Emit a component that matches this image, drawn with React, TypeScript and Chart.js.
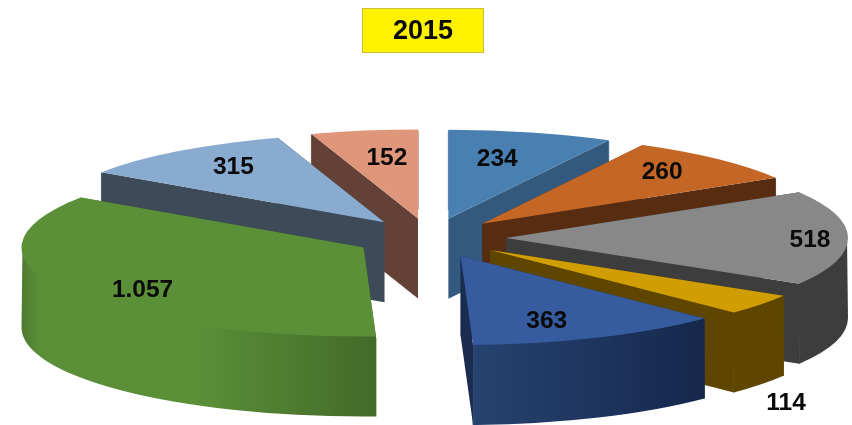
import React, { useEffect, useRef } from "react";
import { Chart, registerables } from "chart.js";

Chart.register(...registerables);

const year = "2015";
const categories = ["A", "B", "C", "D", "E", "F", "G", "H"];
const values = [234, 260, 518, 114, 363, 1057, 315, 152];

const topColors = ["#4A7FB1", "#C46726", "#888888", "#D09E00", "#365C9F", "#5B9039", "#8AABD0", "#E0967A"];
const cutColors = ["#34597F", "#582C10", "#3D3D3D", "#5E4500", "#1A2D50", "#436A29", "#3D4A58", "#634137"];
const rimStops: string[][] = [
  ["#34597F"],
  ["#582C10"],
  ["#3D3D3D"],
  ["#5E4500"],
  ["#26426F", "#1E3660", "#15274A"],
  ["#4E7A30", "#5A8F38", "#5A8F38", "#436A29"],
  ["#3D4A58"],
  ["#634137"],
];
// painter's order, back to front
const drawOrder = [0, 7, 1, 6, 2, 3, 5, 4];
const labelRadius = [0.7, 0.786, 0.889, 1.914, 0.763, 0.798, 0.77, 0.69];
const labelAngleShift = [-2.2, -1.5, 1, 25.4, 4.5, -7, 2, 1.5];

const pieView = { cx: 430, cy: 238, rx: 342, ry: 89, depth: 80, explode: 76 / 342 };

const fmt = (v: number) => String(v).replace(/\B(?=(\d{3})+$)/g, ".");

const pie3d = {
  id: "pie3d",
  beforeDraw(chart: any) {
    const c = chart.ctx;
    c.save();
    c.fillStyle = "#FFFFFF";
    c.fillRect(0, 0, chart.width, chart.height);
    c.fillStyle = "#FFF200";
    c.fillRect(362.5, 8.5, 121, 44);
    c.strokeStyle = "#CDBE3A";
    c.lineWidth = 1;
    c.strokeRect(362.5, 8.5, 121, 44);
    c.restore();
  },
  beforeDatasetsDraw(chart: any) {
    const c = chart.ctx;
    const arcs = chart.getDatasetMeta(0).data;
    const { cx, cy, rx, ry, depth, explode } = pieView;
    const apex = (el: any) => {
      const mid = (el.startAngle + el.endAngle) / 2;
      return { x: cx + explode * rx * Math.cos(mid), y: cy + explode * ry * Math.sin(mid) };
    };
    drawOrder.forEach((i) => {
      const el = arcs[i];
      const p = apex(el);
      const pt = (t: number) => ({ x: p.x + rx * Math.cos(t), y: p.y + ry * Math.sin(t) });
      // cut faces; the vertical edge is stroked so that no seam shows against the rim
      c.fillStyle = cutColors[i];
      c.strokeStyle = cutColors[i];
      c.lineWidth = 0.8;
      [el.startAngle, el.endAngle].forEach((t: number) => {
        const q = pt(t);
        c.beginPath();
        c.moveTo(p.x, p.y);
        c.lineTo(q.x, q.y);
        c.lineTo(q.x, q.y + depth);
        c.lineTo(p.x, p.y + depth);
        c.closePath();
        c.fill();
        c.beginPath();
        c.moveTo(q.x, q.y + 1);
        c.lineTo(q.x, q.y + depth);
        c.stroke();
      });
      // outer rim, front half only; its top edge tucks under the top face
      const a = Math.max(el.startAngle, 0);
      const b = Math.min(el.endAngle, Math.PI);
      if (b > a) {
        const xs = [a, b, Math.PI / 2].filter((t) => t >= a && t <= b).map((t) => pt(t).x);
        const stops = rimStops[i];
        const g = c.createLinearGradient(Math.min(...xs), 0, Math.max(...xs), 0);
        if (stops.length === 1) {
          g.addColorStop(0, stops[0]);
          g.addColorStop(1, stops[0]);
        } else {
          // left to right; the green one has a narrow shaded band at its far left
          stops.forEach((s, k) => {
            let pos = k / (stops.length - 1);
            if (stops.length === 4) pos = [0, 0.05, 0.5, 1][k];
            g.addColorStop(pos, s);
          });
        }
        c.fillStyle = g;
        c.beginPath();
        c.ellipse(p.x, p.y, rx - 1, ry - 1, 0, a, b, false);
        c.ellipse(p.x, p.y + depth, rx, ry, 0, b, a, true);
        c.closePath();
        c.fill();
      }
      // top face: the library's own arc element, squashed
      c.save();
      c.translate(p.x, p.y);
      c.scale(rx / el.outerRadius, ry / el.outerRadius);
      c.translate(-el.x, -el.y);
      el.draw(c);
      c.restore();
    });
    // value labels
    c.save();
    c.fillStyle = "#0A0A0A";
    c.font = 'bold 24.5px "Liberation Sans", Arial, sans-serif';
    c.textAlign = "center";
    c.textBaseline = "middle";
    arcs.forEach((el: any, i: number) => {
      const p = apex(el);
      const t = (el.startAngle + el.endAngle) / 2 + (labelAngleShift[i] * Math.PI) / 180;
      c.fillText(
        fmt(values[i]),
        p.x + labelRadius[i] * rx * Math.cos(t),
        p.y + labelRadius[i] * ry * Math.sin(t) + 1
      );
    });
    c.restore();
    return false;
  },
};

export default function App() {
  const ref = useRef<HTMLCanvasElement>(null);
  useEffect(() => {
    const chart = new Chart(ref.current as HTMLCanvasElement, {
      type: "pie",
      data: {
        labels: categories,
        datasets: [{ data: values, backgroundColor: topColors, borderWidth: 0 }],
      },
      plugins: [pie3d],
      options: {
        responsive: false,
        animation: false,
        events: [],
        layout: { padding: { right: 6 } },
        plugins: {
          legend: { display: false },
          tooltip: { enabled: false },
          title: {
            display: true,
            text: year,
            fullSize: false,
            color: "#0A0A0A",
            font: { family: '"Liberation Sans", Arial, sans-serif', size: 27, weight: "bold" },
            padding: { top: 15, bottom: 10 },
          },
        },
      },
    } as any);
    return () => chart.destroy();
  }, []);
  return (
    <canvas
      ref={ref}
      width={852}
      height={425}
      style={{ position: "absolute", left: 0, top: 0, width: 852, height: 425, display: "block", filter: "blur(0.5px)" }}
    />
  );
}
